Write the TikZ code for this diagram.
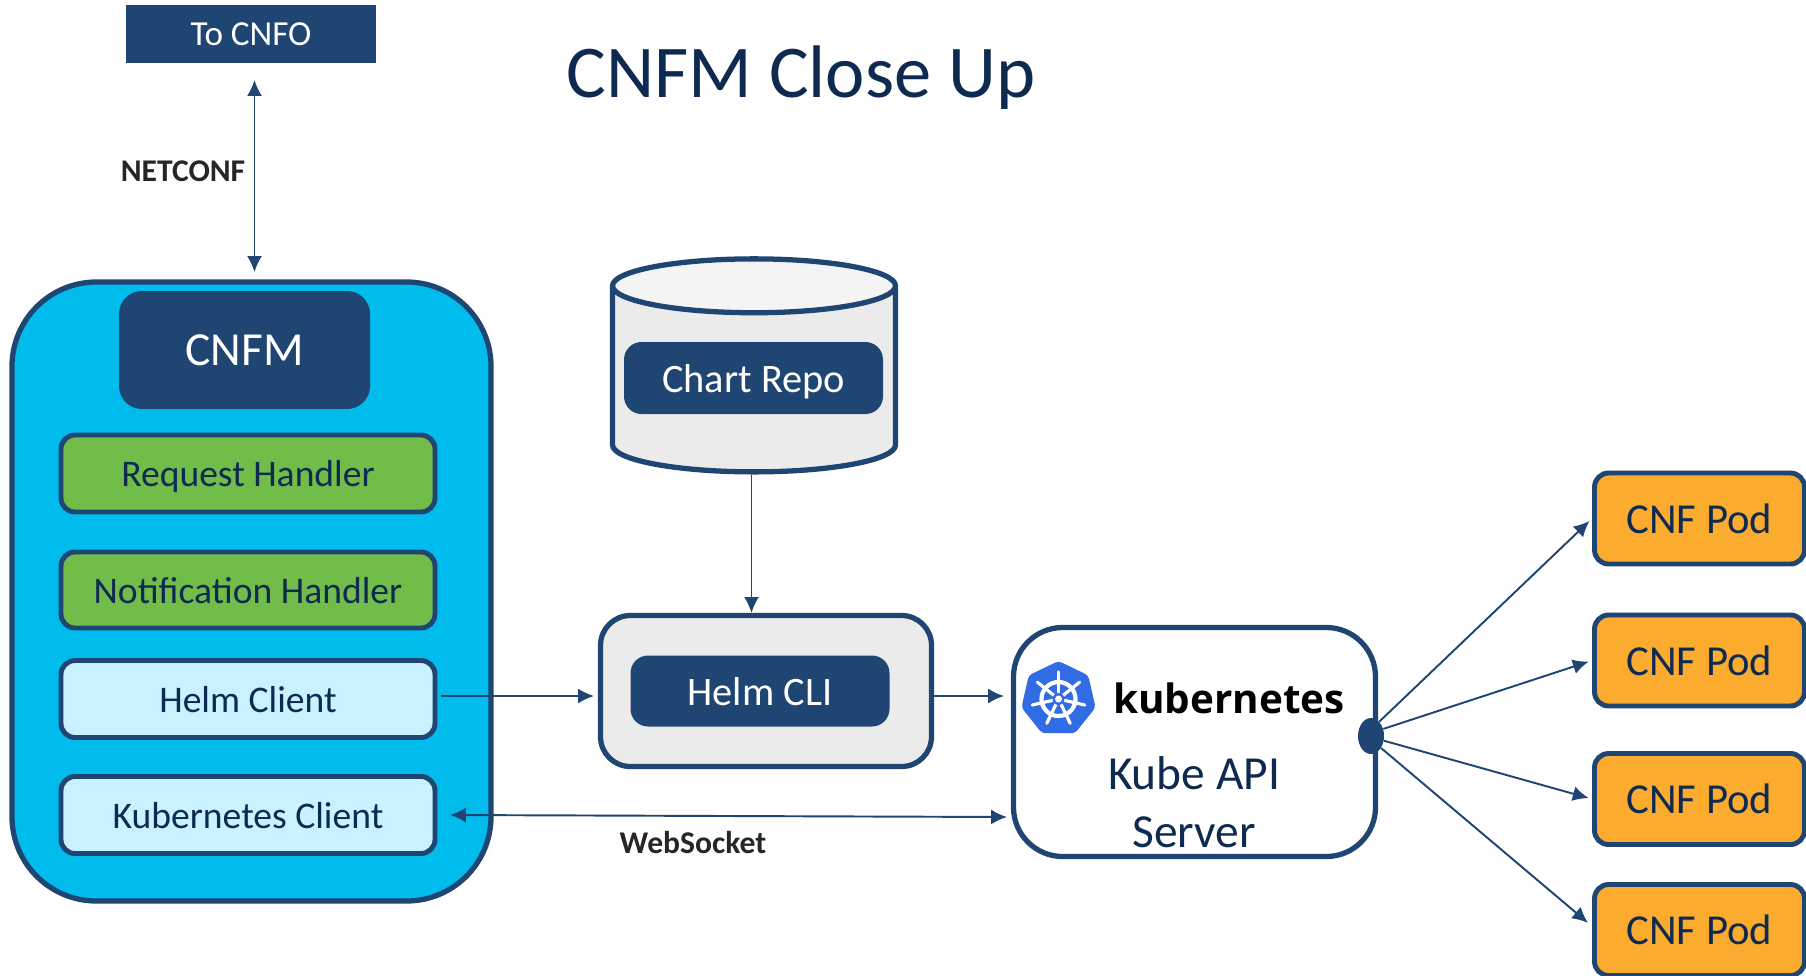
\documentclass[tikz,border=0pt]{standalone}
\usepackage{fontspec}
\setmainfont{Carlito}
\newfontfamily\kubefont{Open Sans}
\usetikzlibrary{shapes.geometric,arrows.meta}
\definecolor{navy}{HTML}{1F4573}
\definecolor{titleblue}{HTML}{0E2A50}
\definecolor{cnfmblue}{HTML}{00BCEC}
\definecolor{handlergreen}{HTML}{72BC4A}
\definecolor{clientblue}{HTML}{C8F2FF}
\definecolor{podorange}{HTML}{FBAB2E}
\definecolor{boxgrey}{HTML}{EBEBEB}
\definecolor{kubeblue}{HTML}{326CE5}
\tikzset{
  boxsize/.style 2 args={minimum width=#1*0.02cm,minimum height=#2*0.02cm},
  captext/.style={text depth=0pt},
  darkbox/.style={captext,fill=navy,rounded corners=10pt,text=white,font=\fontsize{23}{23}\selectfont},
  handlerbox/.style={captext,draw=navy,line width=2.8pt,rounded corners=8pt,text=titleblue,font=\fontsize{21.4}{21}\selectfont},
  podbox/.style={handlerbox,fill=podorange,font=\fontsize{24.3}{24}\selectfont},
  boldlabel/.style={captext,font=\bfseries\fontsize{18}{18}\selectfont,text=black!85},
  link/.style={navy,line width=1.1pt,-{Latex[length=9pt,width=8.5pt]}},
  biglink/.style={navy,line width=1.1pt,{Latex[length=9pt,width=8.5pt]}-{Latex[length=9pt,width=8.5pt]}}
}
\begin{document}
\begin{tikzpicture}[x=0.02cm,y=-0.02cm]
\useasboundingbox (0,0) rectangle (1806,975);

\node[darkbox,rounded corners=0pt,boxsize={250}{58},font=\fontsize{20}{20}\selectfont] (cnfo) at (251,34) {To CNFO};
\node[captext,text=titleblue,font=\fontsize{42.4}{42}\selectfont] (title) at (801,72) {CNFM Close Up};

% CNFM column
\node[draw=navy,line width=3pt,fill=cnfmblue,rounded corners=48pt,boxsize={479}{619}] (cnfm) at (251.5,591.5) {};
\node[darkbox,rounded corners=13pt,boxsize={251}{118},font=\fontsize{27}{27}\selectfont] (cnfmhead) at (244.5,350) {CNFM};
\node[handlerbox,fill=handlergreen,boxsize={374}{77}] (request) at (248,473.5) {Request Handler};
\node[handlerbox,fill=handlergreen,boxsize={374}{76}] (notify) at (248,590) {Notification Handler};
\node[handlerbox,fill=clientblue,boxsize={374}{77}] (helmclient) at (248,699) {Helm Client};
\node[handlerbox,fill=clientblue,boxsize={374}{77}] (kubeclient) at (248,815) {Kubernetes Client};

% chart repo
\node[cylinder,shape border rotate=90,aspect=4.6,draw=navy,line width=3pt,cylinder uses custom fill,cylinder body fill=boxgrey,cylinder end fill=boxgrey!55!white,boxsize={283}{213},anchor=south] (repo) at (754,474.5) {};
\node[darkbox,boxsize={259}{72}] (chartrepo) at (753.5,378) {Chart Repo};

% helm cli
\node[draw=navy,line width=3pt,fill=boxgrey,rounded corners=17pt,boxsize={331}{151}] (helmbox) at (766,691) {};
\node[darkbox,boxsize={259}{71}] (helmcli) at (760,691) {Helm CLI};

% kube api
\node[draw=navy,line width=3pt,fill=white,rounded corners=28pt,boxsize={362}{229}] (kube) at (1194.5,742) {};
\node[regular polygon,regular polygon sides=7,fill=kubeblue,rounded corners=2pt,boxsize={76}{76},inner sep=0pt] (logo) at (1058.5,699) {};
\draw[white,line width=2.4pt] (logo.center) circle (17*0.02cm);
\foreach \a in {-90,-38.57,...,260}
  {\draw[white,line width=1.8pt,line cap=round] (logo.center) -- ++(\a:27);}
\fill[kubeblue] (logo.center) circle (6*0.02cm);
\fill[white] (logo.center) circle (3.5*0.02cm);
\node[font=\kubefont\bfseries\fontsize{23}{23}\selectfont,text=black] (kubelabel) at (1229,698) {kubernetes};
\node[text=titleblue,font=\fontsize{27}{27}\selectfont] (kubeapi) at (1194,773) {Kube API};
\node[text=titleblue,font=\fontsize{27}{27}\selectfont] (kubeserver) at (1194,832) {Server};
\node[ellipse,fill=navy,boxsize={26}{36},inner sep=0pt] (hub) at (1371,736) {};

% pods
\foreach \name/\y in {poda/518.5,podb/660.5,podc/799,podd/930}
  {\node[podbox,boxsize={210}{91}] (\name) at (1699.5,\y) {CNF Pod};}

\node[boldlabel] (netconf) at (183,171) {NETCONF};
\node[boldlabel] (websocket) at (693,842) {WebSocket};

\coordinate (cnfoport) at (254.5,80);
\coordinate (cnfmport) at (254.5,272);
\draw[biglink] (cnfoport) -- (cnfmport);
\draw[link] (repo.south -| 751.5,0) -- (helmbox.north -| 751.5,0);
\draw[link,shorten <=2pt] (helmclient.east |- 0,696) -- (594,696);
\draw[link] (helmbox.east |- 0,696) -- (1004,696);
\draw[biglink] (450,815) -- (1007,817);
\draw[link,shorten >=2pt] (hub.60) -- (poda.west);
\draw[link,shorten >=2pt] (hub.30) -- (podb.west);
\draw[link,shorten >=2pt] (hub.-20) -- (podc.west);
\draw[link,shorten >=3pt] (hub.-50) -- (podd.178);
\end{tikzpicture}
\end{document}
